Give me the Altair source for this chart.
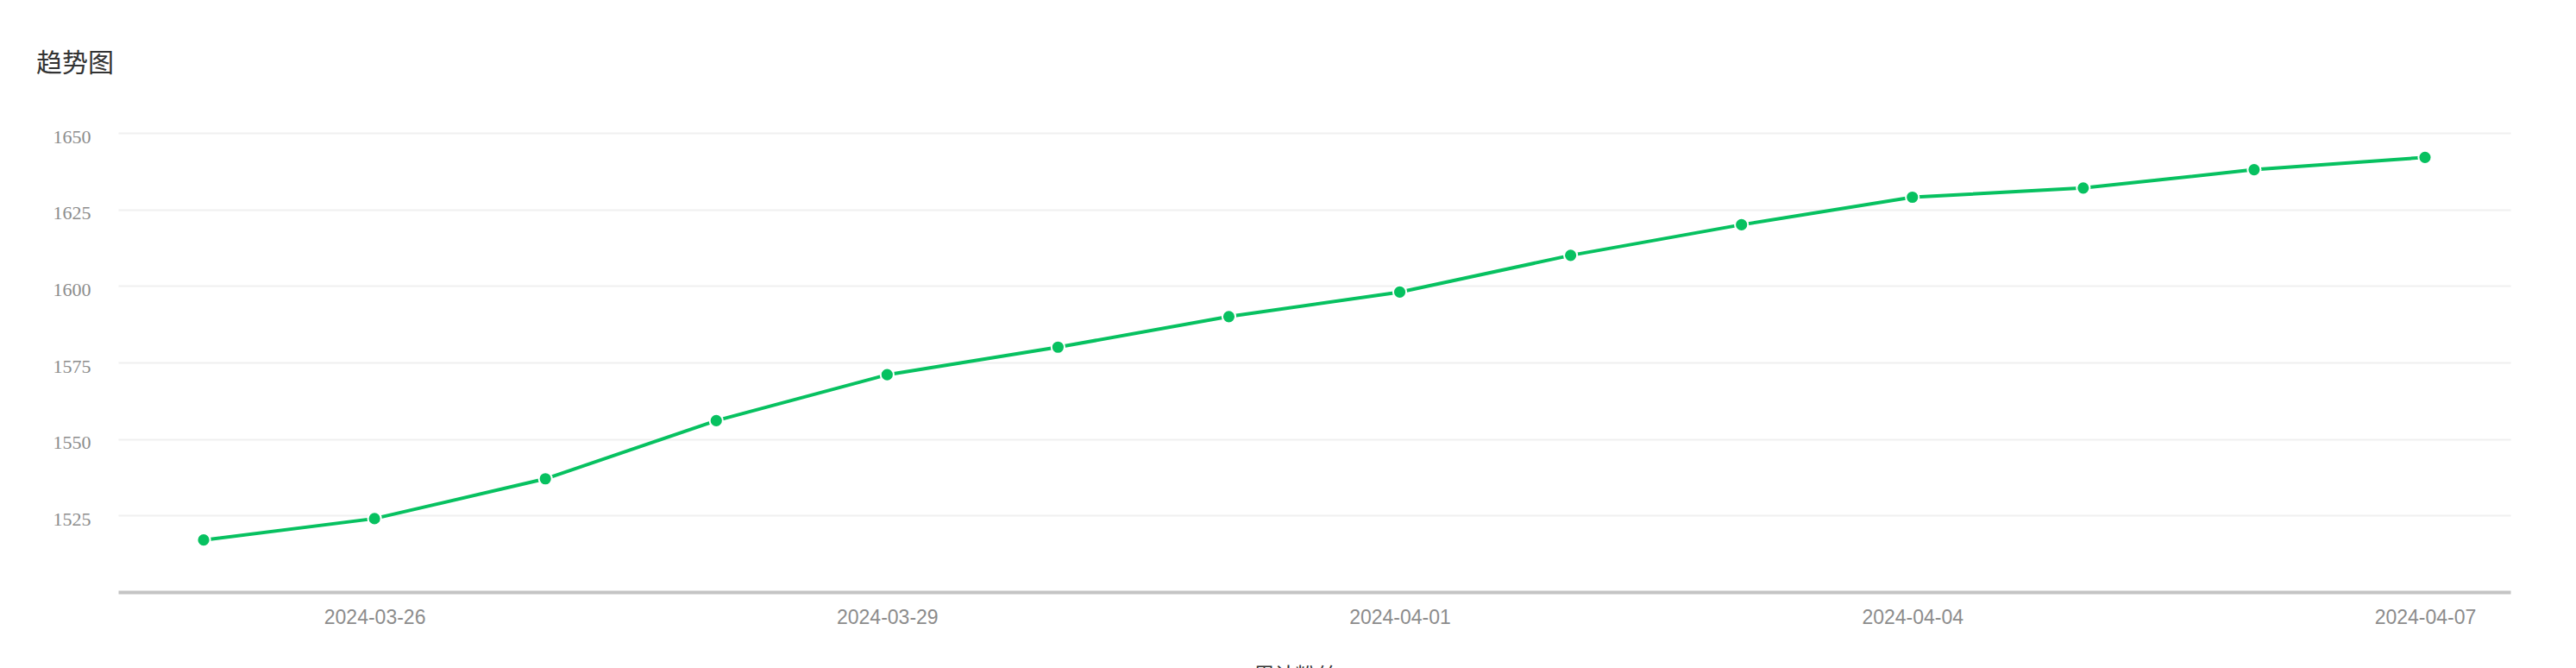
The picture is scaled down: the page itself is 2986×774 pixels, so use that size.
import altair as alt
import pandas as pd

dates = ["2024-03-25", "2024-03-26", "2024-03-27", "2024-03-28", "2024-03-29",
         "2024-03-30", "2024-03-31", "2024-04-01", "2024-04-02", "2024-04-03",
         "2024-04-04", "2024-04-05", "2024-04-06", "2024-04-07"]
values = [1517, 1524, 1537, 1556, 1571, 1580, 1590, 1598, 1610, 1620,
          1629, 1632, 1638, 1642]
x_tick_labels = ["2024-03-26", "2024-03-29", "2024-04-01", "2024-04-04", "2024-04-07"]
y_ticks = [1525, 1550, 1575, 1600, 1625, 1650]

df = pd.DataFrame({"date": dates, "value": values})

GREEN = "#07c160"

x = alt.X(
    "date:O",
    sort=dates,
    scale=alt.Scale(padding=0.5),
    axis=alt.Axis(
        values=x_tick_labels,
        labelAngle=0,
        ticks=False,
        domainColor="#c4c4c4",
        domainWidth=4,
        labelColor="#8c8c8c",
        labelFont="Liberation Sans",
        labelFontSize=23,
        labelPadding=18,
        title="累计粉丝",
        titleFont="Noto Sans CJK SC",
        titleFontSize=24,
        titleFontWeight="normal",
        titleColor="#333333",
        titlePadding=44,
        titleX=1364,
        titleAlign="center",
        grid=False,
    ),
)
y = alt.Y(
    "value:Q",
    scale=alt.Scale(domain=[1500, 1650], nice=False, zero=False),
    axis=alt.Axis(
        values=y_ticks,
        format="d",
        domain=False,
        ticks=False,
        grid=True,
        gridColor="#f0f0f0",
        gridWidth=2,
        labelColor="#8c8c8c",
        labelFont="Liberation Serif",
        labelFontSize=22,
        labelPadding=32,
        labelBaseline="middle",
        labelOffset=4,
        title=None,
    ),
)

line = alt.Chart(df).mark_line(color=GREEN, strokeWidth=4).encode(x=x, y=y)
points = alt.Chart(df).mark_point(
    filled=True, fill=GREEN, size=230, stroke="white", strokeWidth=2, opacity=1
).encode(x=x, y=y)

chart = (
    alt.layer(line, points)
    .properties(
        width=2773,
        height=532,
        autosize=alt.AutoSizeParams(type="none"),
        padding={"left": 129, "top": 146, "right": 68, "bottom": 96},
        title=alt.TitleParams(
            "趋势图",
            anchor="start",
            frame="group",
            font="Noto Sans CJK SC",
            fontSize=30,
            fontWeight="normal",
            color="#333333",
            dx=-95,
            offset=58,
        ),
    )
    .configure_view(stroke=None)
)

chart.save("out.html", embed_options={"renderer": "svg", "actions": False})
